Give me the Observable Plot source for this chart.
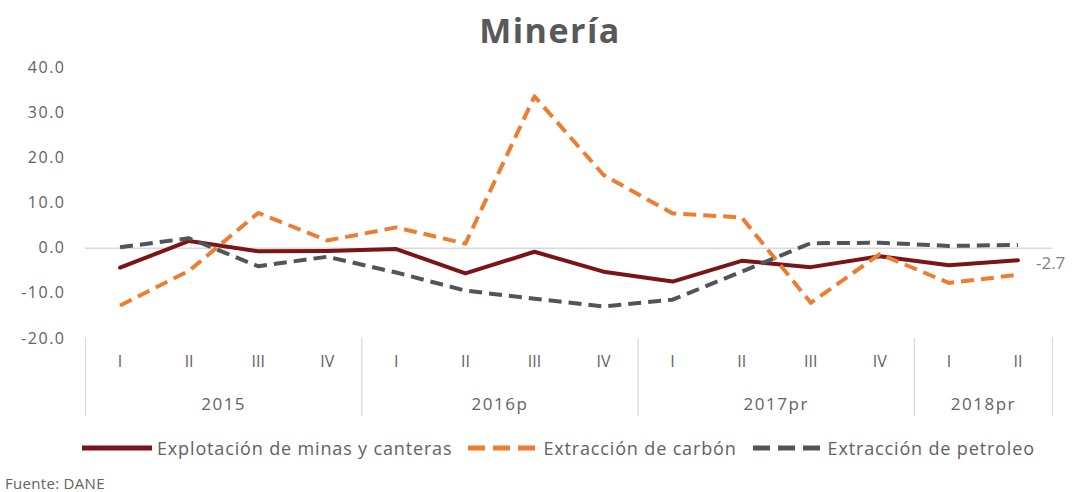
<!DOCTYPE html>
<html>
<head>
<meta charset="utf-8">
<script src="https://cdn.jsdelivr.net/npm/d3@7"></script>
<script src="https://cdn.jsdelivr.net/npm/@observablehq/plot@0.6"></script>
<style>
  html, body { margin: 0; padding: 0; background: #fff; }
  body { width: 1074px; height: 492px; position: relative; overflow: hidden; font-family: "Open Sans", sans-serif; color: #626262; }
  #title { position: absolute; left: 550px; top: 8px; transform: translateX(-50%); font-size: 34px; font-weight: 700; line-height: 44px; letter-spacing: 1.5px; white-space: nowrap; color: #595959; }
  #chart { position: absolute; left: 0; top: 55px; }
  #legend { position: absolute; left: 82px; top: 436px; display: flex; align-items: center; font-size: 18px; letter-spacing: 0.85px; white-space: nowrap; }
  #legend .item { display: flex; align-items: center; margin-right: 16px; }
  #legend svg { margin-right: 5px; }
  #caption { position: absolute; left: 5px; top: 472px; font-size: 15px; line-height: 22px; letter-spacing: 0.3px; white-space: nowrap; }
  #chart .yt text { letter-spacing: 1.5px; }
  #chart .yr text { letter-spacing: 1.5px; }
</style>
</head>
<body>
<div id="title">Minería</div>
<div id="chart"></div>
<div id="legend"></div>
<div id="caption">Fuente: DANE</div>
<script>
// ---- data ----
const quarters = ["I","II","III","IV","I","II","III","IV","I","II","III","IV","I","II"];
const years = ["2015","2016p","2017pr","2018pr"];
const yearSpans = [4, 4, 4, 2];
const seriesNames = ["Explotación de minas y canteras", "Extracción de carbón", "Extracción de petroleo"];
const explotacion = [-4.3, 1.6, -0.7, -0.6, -0.2, -5.6, -0.8, -5.2, -7.4, -2.8, -4.2, -1.8, -3.8, -2.7];
const carbon      = [-12.7, -5.0, 7.8, 1.7, 4.6, 1.0, 33.6, 16.2, 7.7, 6.8, -12.1, -1.3, -7.7, -5.9];
const petroleo    = [0.2, 2.2, -4.0, -1.9, -5.4, -9.4, -11.2, -12.9, -11.4, -5.2, 1.1, 1.2, 0.5, 0.7];
const yTicks = [-20, -10, 0, 10, 20, 30, 40];

// ---- styles ----
const colors = ["#7b1416", "#ed7d31", "#4f5558"];
const dashes = [null, "13,7", "13,7"];
const textColor = "#626262";

// ---- derived ----
const seriesValues = [explotacion, carbon, petroleo];
const rows = seriesValues.map((vals, s) => vals.map((v, i) => ({i, v, s: seriesNames[s]})));
const boundaries = [-0.5];
const yearCenters = [];
let acc = 0;
for (const n of yearSpans) { yearCenters.push(acc + (n - 1) / 2); acc += n; boundaries.push(acc - 0.5); }
const lastPoint = {i: explotacion.length - 1, v: explotacion[explotacion.length - 1]};

const lineMarks = rows.map((data, s) => Plot.line(data, {
  x: "i", y: "v", stroke: colors[s], strokeWidth: 4,
  strokeDasharray: dashes[s] || undefined, strokeLinejoin: "round", strokeLinecap: s === 0 ? "round" : "butt"
}));

const chart = Plot.plot({
  width: 1074, height: 375,
  marginLeft: 85, marginRight: 22, marginTop: 12, marginBottom: 92,
  x: {domain: [boundaries[0], boundaries[boundaries.length - 1]]},
  y: {domain: [yTicks[0], yTicks[yTicks.length - 1]]},
  style: {fontFamily: "Open Sans, sans-serif", fontSize: "16px", color: textColor, background: "white", overflow: "visible"},
  marks: [
    Plot.ruleY([0], {stroke: "#d9d9d9", strokeWidth: 1.5, x1: boundaries[0], x2: boundaries[boundaries.length - 1]}),
    Plot.axisY({ticks: yTicks, tickSize: 0, tickPadding: 20, tickFormat: d => d.toFixed(1), label: null, fill: textColor, fontSize: 16, className: "yt"}),
    Plot.axisX(boundaries, {tickSize: 78, tickFormat: () => "", stroke: "#d9d9d9", strokeWidth: 1.2, label: null}),
    Plot.axisX(d3.range(quarters.length), {tickSize: 0, tickPadding: 17, tickFormat: i => quarters[i], label: null, fill: textColor, fontSize: 16, fontFamily: "Liberation Sans Narrow, Open Sans, sans-serif"}),
    Plot.axisX(yearCenters, {tickSize: 0, tickPadding: 59, tickFormat: (d, k) => years[k], label: null, fill: textColor, fontSize: 17, className: "yr"}),
    ...lineMarks,
    Plot.text([lastPoint], {x: "i", y: "v", text: d => d.v.toFixed(1), dx: 18, dy: 3, textAnchor: "start", fill: "#7f7f7f", fontSize: 17})
  ]
});
document.getElementById("chart").appendChild(chart);

// ---- legend ----
const legend = document.getElementById("legend");
seriesNames.forEach((name, s) => {
  const item = document.createElement("div");
  item.className = "item";
  const ns = "http://www.w3.org/2000/svg";
  const sw = document.createElementNS(ns, "svg");
  sw.setAttribute("width", 70); sw.setAttribute("height", 10);
  const ln = document.createElementNS(ns, "line");
  ln.setAttribute("x1", 0); ln.setAttribute("x2", 70); ln.setAttribute("y1", 5); ln.setAttribute("y2", 5);
  ln.setAttribute("stroke", colors[s]); ln.setAttribute("stroke-width", 5);
  if (dashes[s]) ln.setAttribute("stroke-dasharray", "17,8");
  sw.appendChild(ln);
  item.appendChild(sw);
  const t = document.createElement("span");
  t.textContent = name;
  item.appendChild(t);
  legend.appendChild(item);
});
</script>
</body>
</html>
